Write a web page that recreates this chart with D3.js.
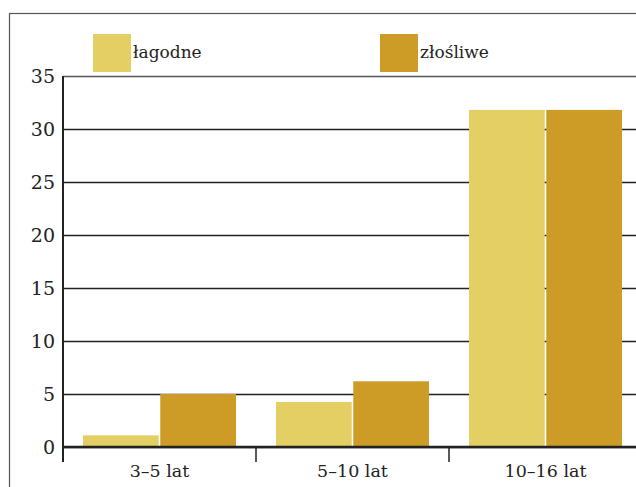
<!DOCTYPE html>
<html>
<head>
<meta charset="utf-8">
<script src="https://cdn.jsdelivr.net/npm/d3@7"></script>
<style>
  body { margin: 0; background: #fff; }
  svg { display: block; font-family: "DejaVu Serif", serif; }
</style>
</head>
<body>
<div id="chart"></div>
<script>
// data
let categories = ["3–5 lat", "5–10 lat", "10–16 lat"];
let seriesNames = ["łagodne", "złośliwe"];
let lagodne = [1.1, 4.25, 31.8];
let zlosliwe = [5.0, 6.2, 31.8];
let yTicks = [0, 5, 10, 15, 20, 25, 30, 35];
let colors = ["#e3cf63", "#cc9c27"];

let width = 636;
let height = 487;

let left = 63;
let bandW = 193;
let yTop = 76;
let yBot = 447;

let svg = d3
  .select("#chart")
  .append("svg")
  .attr("width", width)
  .attr("height", height);

// frame
svg
  .append("rect")
  .attr("x", 9.5)
  .attr("y", 13.5)
  .attr("width", width)
  .attr("height", height)
  .attr("fill", "none")
  .attr("stroke", "#555")
  .attr("stroke-width", 1.2);

let xScale = d3
  .scaleBand()
  .domain(categories)
  .range([left, left + bandW * categories.length]);

let xSub = d3
  .scaleBand()
  .domain(seriesNames)
  .range([20, 173])
  .paddingInner(0.02);

let yScale = d3
  .scaleLinear()
  .domain([0, 35])
  .range([yBot, yTop]);

// gridlines + y labels
let yAxis = d3
  .axisLeft(yScale)
  .tickValues(yTicks)
  .tickSize(-(width - left))
  .tickPadding(8);

let yG = svg
  .append("g")
  .attr("class", "yAxis")
  .attr("transform", "translate(" + left + ",0)")
  .call(yAxis);

yG.select(".domain").remove();
yG.selectAll(".tick line")
  .attr("stroke", function(d) { return d === 35 ? "#555" : "#222"; })
  .attr("stroke-width", 1.3);
yG.selectAll(".tick text")
  .attr("font-size", 19)
  .attr("fill", "#222")
  .attr("font-family", "DejaVu Serif");

// bars
let rows = categories.map(function(c, i) {
  return { cat: c, vals: [lagodne[i], zlosliwe[i]] };
});

let groups = svg
  .selectAll("g.grp")
  .data(rows)
  .enter()
  .append("g")
  .attr("class", "grp")
  .attr("transform", function(d) {
    return "translate(" + xScale(d.cat) + ",0)";
  });

groups
  .selectAll("rect")
  .data(function(d) {
    return d.vals.map(function(v, j) {
      return { name: seriesNames[j], value: v, idx: j };
    });
  })
  .enter()
  .append("rect")
  .attr("x", function(d) { return xSub(d.name); })
  .attr("y", function(d) { return yScale(d.value); })
  .attr("width", xSub.bandwidth())
  .attr("height", function(d) { return yBot - yScale(d.value); })
  .attr("fill", function(d) { return colors[d.idx]; });

// x axis labels
let xAxis = d3.axisBottom(xScale).tickSize(0).tickPadding(18);

let xG = svg
  .append("g")
  .attr("class", "xAxis")
  .attr("transform", "translate(0," + yBot + ")")
  .call(xAxis);

xG.select(".domain").remove();
xG.selectAll(".tick text")
  .attr("font-size", 17.5)
  .attr("fill", "#222")
  .attr("font-family", "DejaVu Serif");

// baseline
svg
  .append("line")
  .attr("x1", left)
  .attr("x2", width)
  .attr("y1", yBot)
  .attr("y2", yBot)
  .attr("stroke", "#222")
  .attr("stroke-width", 2.5);

// category boundary ticks
let bounds = categories.map(function(c) { return xScale(c); });
svg
  .selectAll("line.bt")
  .data(bounds)
  .enter()
  .append("line")
  .attr("class", "bt")
  .attr("x1", function(d) { return d; })
  .attr("x2", function(d) { return d; })
  .attr("y1", yBot)
  .attr("y2", yBot + 15)
  .attr("stroke", "#222")
  .attr("stroke-width", 1.5);

// y axis line
svg
  .append("line")
  .attr("x1", left)
  .attr("x2", left)
  .attr("y1", yTop)
  .attr("y2", yBot + 15)
  .attr("stroke", "#222")
  .attr("stroke-width", 2);

// legend
let legend = svg
  .selectAll("g.leg")
  .data(seriesNames)
  .enter()
  .append("g")
  .attr("class", "leg")
  .attr("transform", function(d, i) {
    return "translate(" + [93, 380][i] + ",34)";
  });

legend
  .append("rect")
  .attr("width", 38)
  .attr("height", 38)
  .attr("fill", function(d, i) { return colors[i]; });

legend
  .append("text")
  .attr("x", 40)
  .attr("y", 24)
  .attr("font-size", 17)
  .attr("fill", "#222")
  .text(function(d) { return d; });
</script>
</body>
</html>
